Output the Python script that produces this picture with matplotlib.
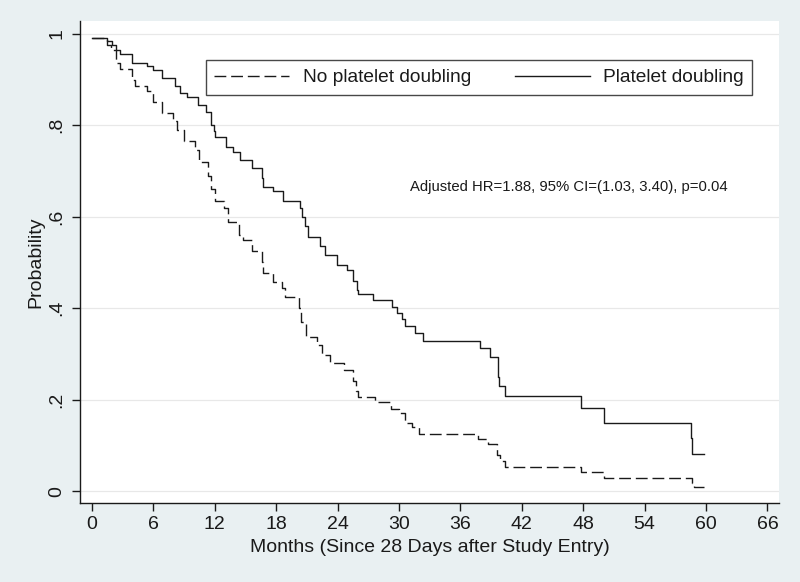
"""
Kaplan-Meier style step plot: platelet doubling vs no platelet doubling
(Stata s2color look: bluish-gray outer region, white plot region)
"""

import matplotlib
matplotlib.use("Agg")
import matplotlib.pyplot as plt

plt.rcParams["font.family"] = ["Liberation Sans", "DejaVu Sans"]

# step change times (months) and survival probability after each step
NO_DBL_T = [0, 1.5, 1.9, 2.3, 2.7, 3.9, 4.2, 5.4, 6.0, 6.8, 7.9, 8.3, 9.0,
            10.1, 10.5, 11.3, 11.6, 12.0, 12.9, 13.3, 14.4, 14.8, 15.6,
            16.6, 16.7, 17.7, 18.6, 18.9, 20.2, 20.4, 20.9, 22.0, 22.5,
            23.3, 24.6, 25.5, 25.8, 26.0, 27.7, 29.2, 30.0, 30.6, 31.3,
            32.0, 37.7, 38.7, 39.6, 39.9, 40.4, 47.8, 50.0, 58.6, 58.8, 59.8]
NO_DBL_S = [0.99, 0.975, 0.965, 0.937, 0.923, 0.90, 0.885, 0.874, 0.851,
            0.826, 0.81, 0.79, 0.766, 0.745, 0.72, 0.69, 0.66, 0.635, 0.619,
            0.589, 0.56, 0.549, 0.524, 0.50, 0.477, 0.458, 0.445, 0.425,
            0.40, 0.37, 0.338, 0.32, 0.298, 0.28, 0.265, 0.24, 0.22, 0.206,
            0.195, 0.18, 0.171, 0.149, 0.14, 0.126, 0.113, 0.102, 0.08,
            0.065, 0.053, 0.042, 0.028, 0.018, 0.009, 0.009]

DBL_T = [0, 1.5, 2.0, 2.3, 2.7, 3.9, 5.4, 6.0, 6.8, 8.1, 8.6, 9.3, 10.4,
         11.1, 11.6, 11.9, 12.0, 13.1, 13.8, 14.5, 15.6, 16.6, 16.7, 17.7,
         18.7, 20.3, 20.5, 20.8, 21.1, 22.3, 22.8, 23.9, 24.9, 25.5, 25.9,
         26.0, 27.5, 29.3, 29.8, 30.3, 30.6, 31.6, 32.3, 37.9, 38.9, 39.7,
         39.8, 40.4, 47.8, 50.0, 58.5, 58.6, 59.8]
DBL_S = [0.99, 0.985, 0.975, 0.965, 0.956, 0.937, 0.930, 0.921, 0.904,
         0.885, 0.871, 0.861, 0.845, 0.829, 0.80, 0.787, 0.775, 0.753,
         0.742, 0.724, 0.706, 0.685, 0.665, 0.657, 0.635, 0.62, 0.60, 0.58,
         0.555, 0.535, 0.516, 0.495, 0.484, 0.46, 0.44, 0.431, 0.418, 0.403,
         0.389, 0.376, 0.362, 0.345, 0.329, 0.312, 0.294, 0.25, 0.230,
         0.209, 0.181, 0.148, 0.116, 0.082, 0.082]

X_TICKS = list(range(0, 67, 6))
Y_TICKS = [0, 0.2, 0.4, 0.6, 0.8, 1.0]
Y_LABELS = ["0", ".2", ".4", ".6", ".8", "1"]

BG = "#E9F0F2"
INK = "#1a1a1a"

fig = plt.figure(figsize=(8, 5.82), dpi=100, facecolor=BG)
ax = fig.add_axes([0.100, 0.1357, 0.874, 0.8282])
ax.set_facecolor("white")

ax.step(NO_DBL_T, NO_DBL_S, where="post", color=INK, lw=1.0,
        dashes=(8.5, 3.5), label="No platelet doubling", zorder=3)
ax.step(DBL_T, DBL_S, where="post", color=INK, lw=1.0,
        label="Platelet doubling", zorder=3)

ax.set_xlim(-1.17, 67.15)
ax.set_ylim(-0.026, 1.028)
ax.set_xticks(X_TICKS)
ax.set_yticks(Y_TICKS)
ax.set_yticklabels(Y_LABELS, rotation=90, va="center")
ax.tick_params(axis="both", labelsize=14, length=5.5, width=1.0,
               color=INK, labelcolor=INK, pad=4)
ax.tick_params(axis="y", pad=5)
ax.grid(True, axis="y", color="#E8E8E8", lw=0.9, zorder=0)

for side in ["top", "right"]:
    ax.spines[side].set_visible(False)
for side in ["left", "bottom"]:
    ax.spines[side].set_color(INK)
    ax.spines[side].set_linewidth(1.0)

ax.set_xlabel("Months (Since 28 Days after Study Entry)", fontsize=14,
              color=INK, labelpad=4)
ax.set_ylabel("Probability", fontsize=14, color=INK, labelpad=3)

ax.text(31.1, 0.665, "Adjusted HR=1.88, 95% CI=(1.03, 3.40), p=0.04",
        fontsize=10.7, color=INK, va="center", ha="left")

leg = ax.legend(loc="center left", bbox_to_anchor=(0.180, 0.8825),
                ncol=2, fontsize=13.8, frameon=True,
                fancybox=False, handlelength=3.9, handletextpad=0.7,
                columnspacing=2.3, borderpad=0.45, borderaxespad=0)
leg.get_frame().set_edgecolor(INK)
leg.get_frame().set_linewidth(1.0)
for txt in leg.get_texts():
    txt.set_color(INK)

fig.savefig("out.png", dpi=100, facecolor=BG)
